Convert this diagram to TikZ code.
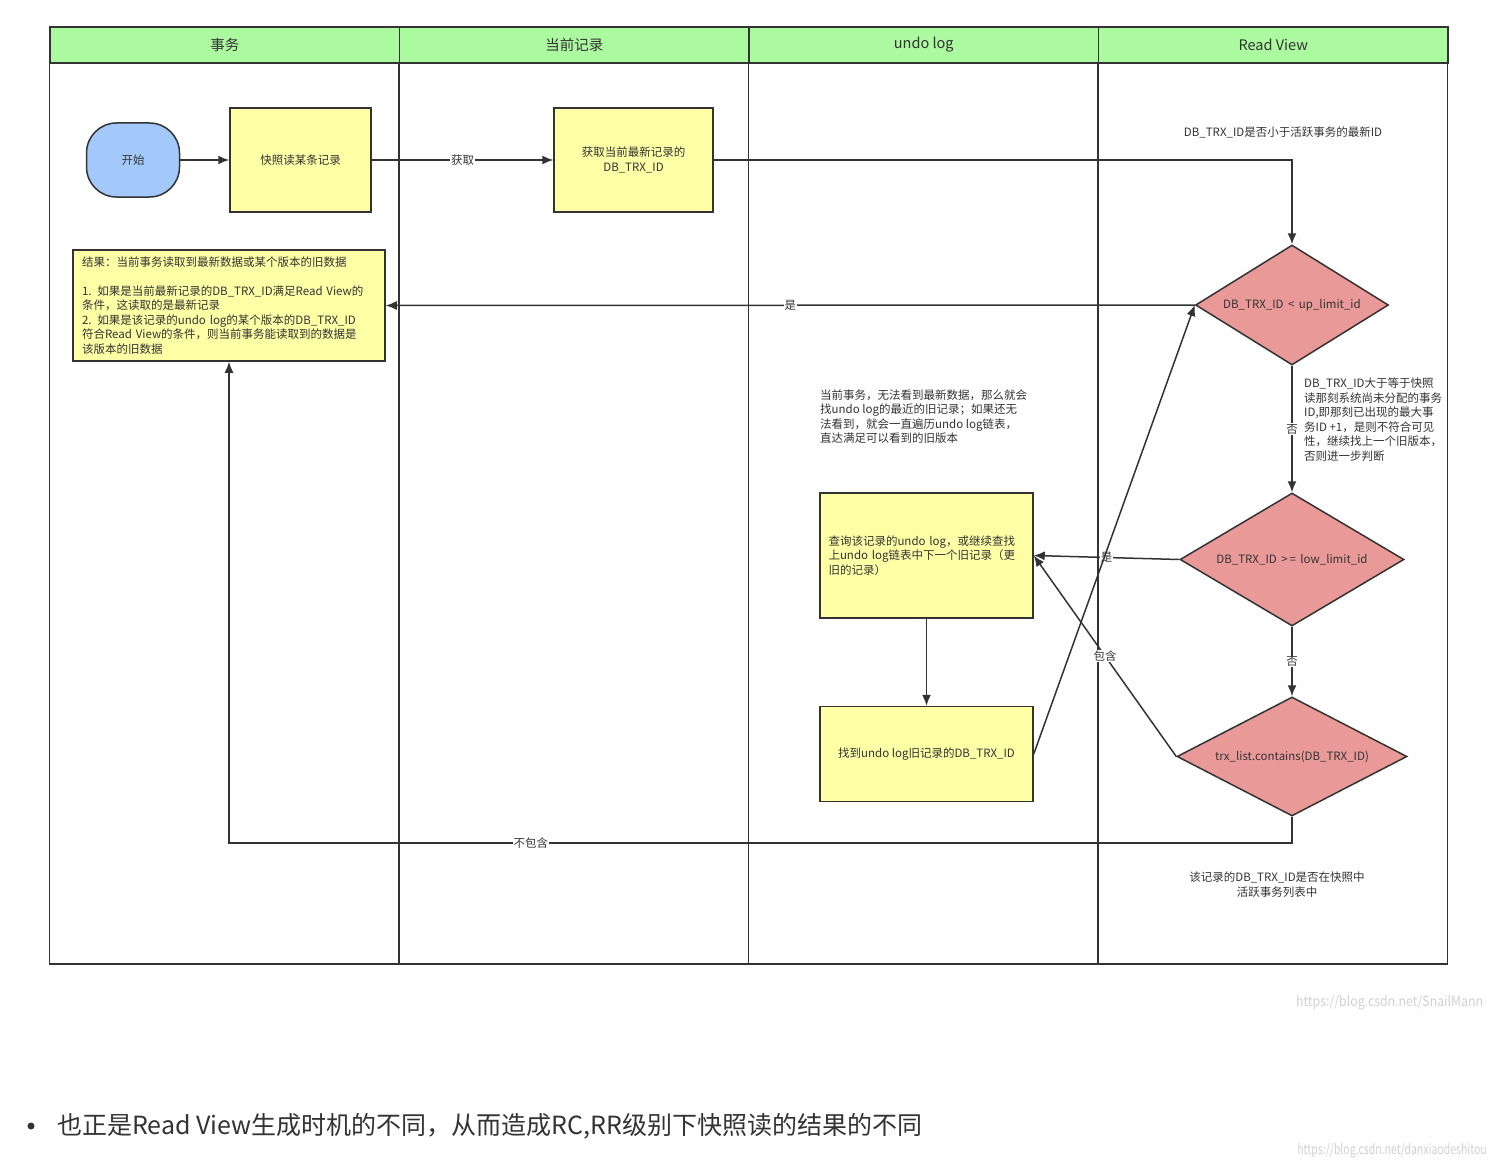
\documentclass[tikz,border=0pt]{standalone}
\usepackage{fontspec}
\setmainfont{Noto Sans CJK SC}
\usetikzlibrary{arrows.meta,positioning,shapes.geometric}
\definecolor{HeadGreen}{RGB}{172,250,160}
\definecolor{StartBlue}{RGB}{163,201,250}
\definecolor{NoteYellow}{RGB}{255,255,166}
\definecolor{CheckRed}{RGB}{234,153,153}
\definecolor{LineGray}{RGB}{51,51,51}
\definecolor{TextGray}{RGB}{51,51,51}
\newcommand{\diagfont}{\fontsize{11.5}{14.5}\selectfont}
\tikzset{
  lanehead/.style={draw=LineGray,line width=1.5pt,fill=HeadGreen,
    minimum width=349.5pt,minimum height=36pt,font=\fontsize{14.5}{17}\selectfont},
  startnode/.style={draw=LineGray,line width=1.5pt,rounded corners=30pt,
    fill=StartBlue,minimum width=93pt,minimum height=74pt,font=\diagfont},
  procbox/.style={draw=LineGray,line width=1.5pt,fill=NoteYellow,
    align=center,font=\diagfont},
  decision/.style={draw=LineGray,line width=1.5pt,diamond,aspect=2,
    inner sep=0pt,fill=CheckRed,font=\diagfont},
  flowarrow/.style={-{Latex[length=11pt,width=9pt]},
    line width=1.5pt,draw=LineGray},
  flowline/.style={line width=1.5pt,draw=LineGray},
  edgelabel/.style={fill=white,inner sep=1pt,font=\diagfont},
  sidenote/.style={align=left,font=\diagfont,inner sep=0pt},
  wmark/.style={font=\fontsize{14}{16}\selectfont,text=black!18,inner sep=0pt},
}

\begin{document}
\begin{tikzpicture}[x=1pt,y=-1pt,text=TextGray]
  \path[fill=white,use as bounding box] (0,0) rectangle (1495,1169);

  % swim lanes
  \foreach \lid/\ltext [count=\i from 0] in {tx/事务,cur/当前记录,undo/undo log,rv/Read View}{
    \node[lanehead] (\lid) at ({50+349.5*\i+174.75},45) {\ltext};
    \draw[flowline] (\lid.south west) rectangle ++(349.5,900);
  }

  % nodes
  \node[startnode] (start) at (133,160) {开始};
  \node[procbox,minimum width=141pt,minimum height=104pt,right=49pt of start] (snap) {快照读某条记录};
  \node[procbox,minimum width=159pt,minimum height=104pt] (fetch) at (633.5,160) {获取当前最新记录的\\DB\_TRX\_ID};
  \node[procbox,align=left,text width=294pt,minimum width=312pt,minimum height=111pt] (result) at (229,305.5)
    {结果：当前事务读取到最新数据或某个版本的旧数据\\[14.5pt]
     1. 如果是当前最新记录的DB\_TRX\_ID满足Read View的\\
     条件，这读取的是最新记录\\
     2. 如果是该记录的undo log的某个版本的DB\_TRX\_ID\\
     符合Read View的条件，则当前事务能读取到的数据是\\
     该版本的旧数据};
  \node[decision,minimum width=193pt,minimum height=120pt] (upchk) at (1292,305) {DB\_TRX\_ID \,<\, up\_limit\_id};
  \node[decision,minimum width=224pt,minimum height=133pt] (lowchk) at (1292,559.5) {DB\_TRX\_ID \,>\,=\, low\_limit\_id};
  \node[decision,minimum width=230pt,minimum height=119pt] (listchk) at (1292,756.5) {trx\_list.contains(DB\_TRX\_ID)};
  \node[procbox,align=left,text width=196pt,minimum width=213pt,minimum height=125pt] (query) at (926.5,555.5)
    {查询该记录的undo log，或继续查找\\上undo log链表中下一个旧记录（更\\旧的记录）};
  \node[procbox,minimum width=213pt,minimum height=95pt,below=87pt of query] (found) {找到undo log旧记录的DB\_TRX\_ID};

  % notes
  \node[sidenote] (rvnote) at (1283,132) {DB\_TRX\_ID是否小于活跃事务的最新ID};
  \node[sidenote,anchor=west] (upnote) at (1304,419.5)
    {DB\_TRX\_ID大于等于快照\\读那刻系统尚未分配的事务\\ID,即那刻已出现的最大事\\务ID +1，是则不符合可见\\性，继续找上一个旧版本，\\否则进一步判断};
  \node[sidenote,anchor=west] (undonote) at (820,416.5)
    {当前事务，无法看到最新数据，那么就会\\找undo log的最近的旧记录；如果还无\\法看到，就会一直遍历undo log链表，\\直达满足可以看到的旧版本};
  \node[sidenote,align=center] (listnote) at (1277,884.5) {该记录的DB\_TRX\_ID是否在快照中\\活跃事务列表中};

  % connectors
  \draw[flowarrow] (start) -- (snap);
  \draw[flowarrow] (snap) -- node[edgelabel]{获取} (fetch);
  \draw[flowarrow] (fetch.east) -| (upchk.north);
  \draw[flowarrow] (upchk.west) -- node[edgelabel]{是} (result.east);
  \draw[flowarrow] (upchk) -- node[edgelabel]{否} (lowchk);
  \draw[flowarrow] (lowchk.west) -- node[edgelabel]{是} (query.east);
  \draw[flowarrow] (lowchk) -- node[edgelabel]{否} (listchk);
  \draw[flowarrow] (listchk.west) -- node[edgelabel]{包含} (query.east);
  \draw[flowarrow] (query) -- (found);
  \draw[flowarrow] (found.east) -- (upchk.west);
  \coordinate (back) at (1292,843);
  \draw[flowarrow] (listchk.south) -- (back) -| node[edgelabel,pos=0.358]{不包含} (result.south);

  % page text below the chart
  \node[wmark,anchor=west] (wm1) at (1296,1003) {\scalebox{0.88}[1]{https://blog.csdn.net/SnailMann}};
  \fill[TextGray] (31,1126) circle (3.5pt);
  \node[anchor=west,inner sep=0pt,font=\fontsize{25}{30}\selectfont] (summary) at (57,1126)
    {也正是Read View生成时机的不同，从而造成RC,RR级别下快照读的结果的不同};
  \node[wmark,anchor=east] (wm2) at (1487,1151) {\scalebox{0.75}[1]{https://blog.csdn.net/danxiaodeshitou}};
\end{tikzpicture}
\end{document}
